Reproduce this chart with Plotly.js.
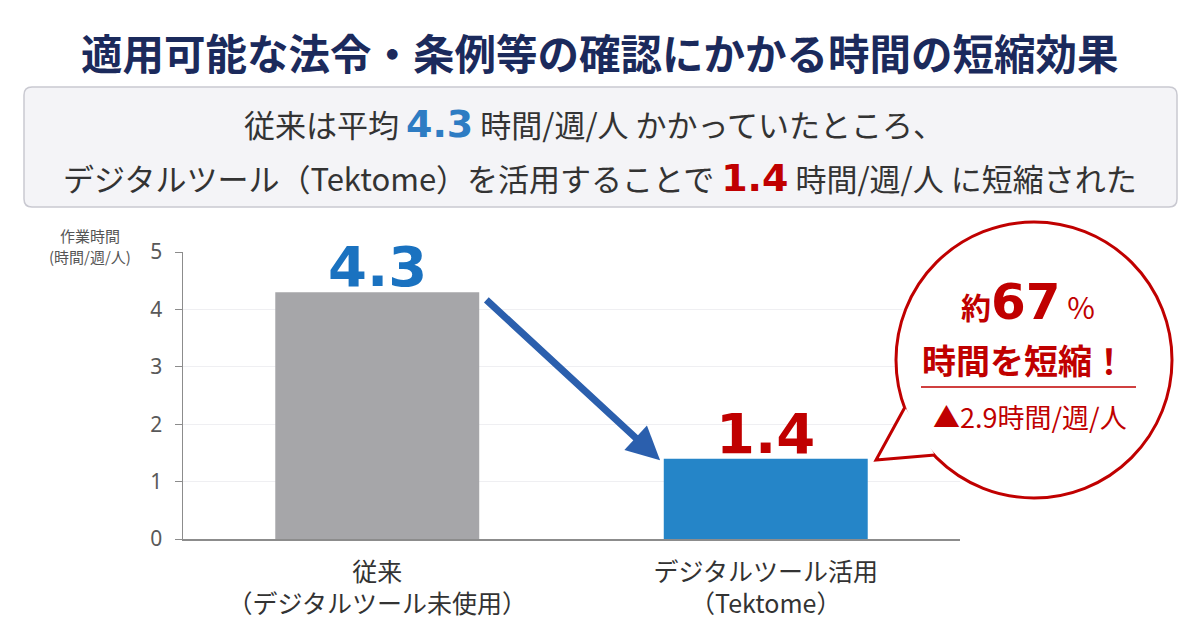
<!DOCTYPE html>
<html>
<head>
<meta charset="utf-8">
<script src="https://cdn.plot.ly/plotly-3.0.1.min.js"></script>
<style>
  html, body { margin: 0; padding: 0; background: #ffffff; }
  #chart { width: 1200px; height: 642px; }
</style>
</head>
<body>
<div id="chart"></div>
<script>
// data
const categories = ['従来<br>（デジタルツール未使用）', 'デジタルツール活用<br>（Tektome）']
const hours = [4.3, 1.4]
const barColors = ['#a6a6a9', '#2585c8']
const labelColors = ['#1a72c0', '#c00000']
const reductionPct = 67
const reductionHours = 2.9
const yTicks = [0, 1, 2, 3, 4, 5]
const yTitleLines = ['作業時間', '(時間/週/人)']

const JP = '"Noto Sans CJK JP", "Noto Sans", sans-serif'
const NUM = '"DejaVu Sans", Verdana, sans-serif'

// plot area in pixels (used to place the decorations around it)
const L = 183, R = 960, T = 252, B = 539
const px = x => (x - L) / (R - L)
const py = y => (B - y) / (B - T)

function roundRect(x0, y0, x1, y1, r) {
  return `M ${px(x0 + r)} ${py(y0)} L ${px(x1 - r)} ${py(y0)} Q ${px(x1)} ${py(y0)} ${px(x1)} ${py(y0 + r)} ` +
    `L ${px(x1)} ${py(y1 - r)} Q ${px(x1)} ${py(y1)} ${px(x1 - r)} ${py(y1)} ` +
    `L ${px(x0 + r)} ${py(y1)} Q ${px(x0)} ${py(y1)} ${px(x0)} ${py(y1 - r)} ` +
    `L ${px(x0)} ${py(y0 + r)} Q ${px(x0)} ${py(y0)} ${px(x0 + r)} ${py(y0)} Z`
}

const trace = {
  type: 'bar',
  x: categories,
  y: hours,
  marker: { color: barColors, line: { width: 0 } },
  hoverinfo: 'skip'
}

// speech bubble
const cx = 1034, cy = 360, rad = 138
const tail = `M ${px(905)} ${py(407)} L ${px(876)} ${py(460)} L ${px(935)} ${py(455)}`

const shapes = [
  {
    type: 'path', xref: 'paper', yref: 'paper', layer: 'below',
    path: roundRect(24, 87, 1177, 207, 8),
    fillcolor: '#f4f4f7', line: { color: '#c9c9d1', width: 1.5 }
  },
  {
    type: 'circle', xref: 'paper', yref: 'paper', layer: 'above',
    x0: px(cx - rad), x1: px(cx + rad), y0: py(cy + rad), y1: py(cy - rad),
    fillcolor: '#ffffff', line: { color: '#c00000', width: 3 }
  },
  {
    type: 'path', xref: 'paper', yref: 'paper', layer: 'above',
    path: tail, fillcolor: '#ffffff', line: { color: '#c00000', width: 3 }
  },
  {
    type: 'line', xref: 'paper', yref: 'paper', layer: 'above',
    x0: px(921), x1: px(1136), y0: py(387), y1: py(387),
    line: { color: '#c00000', width: 1.5 }
  }
]

// value labels above the bars
const valueLabels = hours.map((v, i) => ({
  xref: 'x', yref: 'y', x: i, y: v, xanchor: 'center', yanchor: 'bottom',
  yshift: -9, showarrow: false,
  text: '<b>' + v.toFixed(1) + '</b>',
  font: { family: NUM, size: 56, color: labelColors[i] }
}))

// y axis title, one annotation per line
const yTitle = yTitleLines.map((t, i) => ({
  xref: 'paper', yref: 'paper', x: px(90), y: py(235 + i * 21), xanchor: 'center', yanchor: 'middle',
  showarrow: false, text: t,
  font: { family: JP, size: 15, color: '#555555' }
}))

const annotations = valueLabels.concat(yTitle, [
  {
    xref: 'paper', yref: 'paper', x: px(600), y: py(52), xanchor: 'center', yanchor: 'middle',
    showarrow: false,
    text: '<b>適用可能な法令・条例等の確認にかかる時間の短縮効果</b>',
    font: { family: JP, size: 41.5, color: '#1b2a5c' }
  },
  {
    xref: 'paper', yref: 'paper', x: px(594), y: py(124), xanchor: 'center', yanchor: 'middle',
    showarrow: false,
    text: '従来は平均 <span style="font-family:DejaVu Sans;font-size:38px;fill:#2e7cc3;font-weight:bold">' +
      hours[0].toFixed(1) + '</span> 時間/週/人 かかっていたところ、',
    font: { family: JP, size: 31, color: '#333333' }
  },
  {
    xref: 'paper', yref: 'paper', x: px(600), y: py(177), xanchor: 'center', yanchor: 'middle',
    showarrow: false,
    text: 'デジタルツール（Tektome）を活用することで <span style="font-family:DejaVu Sans;font-size:38px;fill:#c00000;font-weight:bold">' +
      hours[1].toFixed(1) + '</span> 時間/週/人 に短縮された',
    font: { family: JP, size: 31, color: '#333333' }
  },
  // arrow from the old bar to the new one
  {
    xref: 'x', yref: 'y', axref: 'x', ayref: 'y',
    x: 0.728, y: hours[1] - 0.03, ax: 0.277, ay: hours[0] - 0.11,
    text: '', showarrow: true, arrowhead: 2, arrowsize: 0.95, arrowwidth: 7,
    arrowcolor: '#2b5fad', standoff: 0, startstandoff: 0
  },
  // bubble text
  {
    xref: 'paper', yref: 'paper', x: px(1028), y: py(302), xanchor: 'center', yanchor: 'middle',
    showarrow: false,
    text: '<b>約<span style="font-family:DejaVu Sans;font-size:50px">' + reductionPct + '</span></b>' +
      '<span style="font-size:30px"> %</span>',
    font: { family: JP, size: 30, color: '#c00000' }
  },
  {
    xref: 'paper', yref: 'paper', x: px(1024), y: py(359), xanchor: 'center', yanchor: 'middle',
    showarrow: false,
    text: '<b>時間を短縮！</b>',
    font: { family: JP, size: 34, color: '#c00000' }
  },
  {
    xref: 'paper', yref: 'paper', x: px(1030), y: py(416), xanchor: 'center', yanchor: 'middle',
    showarrow: false,
    text: '▲' + reductionHours.toFixed(1) + '時間/週/人',
    font: { family: JP, size: 27, color: '#c00000' }
  }
])

const layout = {
  width: 1200,
  height: 642,
  margin: { l: L, r: 1200 - R, t: T, b: 642 - B },
  paper_bgcolor: '#ffffff',
  plot_bgcolor: '#ffffff',
  showlegend: false,
  bargap: 0.475,
  xaxis: {
    type: 'category',
    showline: true,
    linecolor: '#8c8c8c',
    linewidth: 1.5,
    showgrid: false,
    ticks: '',
    tickfont: { family: JP, size: 25, color: '#333333' },
    ticklabelstandoff: 10,
    fixedrange: true
  },
  yaxis: {
    range: [0, 5],
    tickvals: yTicks,
    showline: true,
    linecolor: '#8c8c8c',
    linewidth: 1.5,
    gridcolor: '#efeff2',
    zeroline: false,
    ticks: 'outside',
    ticklen: 7,
    tickcolor: '#8c8c8c',
    tickfont: { family: '"Noto Sans", sans-serif', size: 21, color: '#595959' },
    ticklabelstandoff: 8,
    fixedrange: true
  },
  shapes: shapes,
  annotations: annotations
}

Plotly.newPlot('chart', [trace], layout, { displayModeBar: false, staticPlot: true })
</script>
</body>
</html>
